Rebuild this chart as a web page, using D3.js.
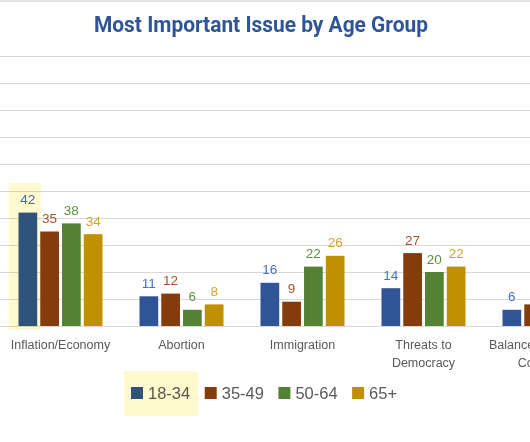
<!DOCTYPE html>
<html>
<head>
<meta charset="utf-8">
<script src="https://cdn.jsdelivr.net/npm/d3@7"></script>
<style>
  html, body { margin: 0; padding: 0; background: #fff; }
  svg { display: block; }
</style>
</head>
<body>
<svg id="chart" width="530" height="442"></svg>
<script>
const title = "Most Important Issue by Age Group";
const categories = ["Inflation/Economy", "Abortion", "Immigration", "Threats to Democracy", "Balance of Power in Congress"];
const series = ["18-34", "35-49", "50-64", "65+"];
const values1834 = [42, 11, 16, 14, 6];
const values3549 = [35, 12, 9, 27, 8];
const values5064 = [38, 6, 22, 20, 7];
const values65 = [34, 8, 26, 22, 9];
const yTicks = [0, 10, 20, 30, 40, 50, 60, 70, 80, 90, 100];

const seriesValues = [values1834, values3549, values5064, values65];
const barColors = ["#2F5597", "#843C0C", "#548235", "#BF9000"];
const labelColors = ["#4472C4", "#A5522A", "#5E9140", "#D4A32A"];
const highlightCat = "Inflation/Economy";
const highlightSeries = "18-34";
const highlightFill = "#FFF9CF";

const svg = d3.select("#chart");
const W = 530;

const x0 = d3.scaleBand().domain(categories).range([0, 121 * categories.length]).paddingInner(0).paddingOuter(0);
const groupW = 84;
const x1 = d3.scaleBand().domain(series).range([0, groupW]).paddingInner(0.14);
const y = d3.scaleLinear().domain([0, 100]).range([326, 56]);
const groupX = c => x0(c) + (x0.bandwidth() - groupW) / 2;

// top border
svg.append("line").attr("x1", 0).attr("x2", W).attr("y1", 1).attr("y2", 1)
  .attr("stroke", "#D9D9D9").attr("stroke-width", 1.5);

// title
svg.append("text").attr("x", 261).attr("y", 32).attr("text-anchor", "middle")
  .attr("font-family", "Roboto, 'Liberation Sans', sans-serif").attr("font-weight", "bold")
  .attr("font-size", 22).attr("fill", "#2F5597")
  .attr("textLength", 334).attr("lengthAdjust", "spacingAndGlyphs")
  .text(title);

// gridlines
svg.append("g").selectAll("line").data(yTicks).join("line")
  .attr("x1", 0).attr("x2", W)
  .attr("y1", d => Math.round(y(d)) + 0.5).attr("y2", d => Math.round(y(d)) + 0.5)
  .attr("stroke", "#D9D9D9").attr("stroke-width", 1.2);

// flattened data
const flat = [];
categories.forEach((c, i) => series.forEach((s, j) => flat.push({ c, s, j, v: seriesValues[j][i] })));

// bars
svg.append("g").selectAll("rect").data(flat).join("rect")
  .attr("x", d => groupX(d.c) + x1(d.s))
  .attr("y", d => y(d.v))
  .attr("width", x1.bandwidth())
  .attr("height", d => y(0) - y(d.v))
  .attr("fill", d => barColors[d.j]);

// value labels (only those that fit in the view)
svg.append("g").selectAll("text")
  .data(flat.filter(d => groupX(d.c) + x1(d.s) + x1.bandwidth() / 2 + 8 < W))
  .join("text")
  .attr("x", d => groupX(d.c) + x1(d.s) + x1.bandwidth() / 2)
  .attr("y", d => y(d.v) - 8.5)
  .attr("text-anchor", "middle")
  .attr("font-family", "'Liberation Sans', Arial, sans-serif")
  .attr("font-size", 13.5)
  .attr("fill", d => labelColors[d.j])
  .text(d => d.v);

// multiply highlight over the selected bar
const hx = groupX(highlightCat) + x1(highlightSeries);
svg.append("rect").attr("x", hx - 10).attr("y", 183).attr("width", x1.bandwidth() + 13.5).attr("height", 147)
  .attr("fill", highlightFill).style("mix-blend-mode", "multiply");

// category labels (wrapped)
const catG = svg.append("g");
categories.forEach(c => {
  const cx = x0(c) + x0.bandwidth() / 2;
  const t = catG.append("text")
    .attr("x", cx).attr("y", 349)
    .attr("text-anchor", "middle")
    .attr("font-family", "'Liberation Sans', Arial, sans-serif")
    .attr("font-size", 12.5).attr("fill", "#595959");
  const words = c.split(" ");
  let line = [];
  let ts = t.append("tspan").attr("x", cx).attr("dy", 0);
  words.forEach(w => {
    line.push(w);
    ts.text(line.join(" "));
    if (ts.node().getComputedTextLength() > 112 && line.length > 1) {
      line.pop();
      ts.text(line.join(" "));
      line = [w];
      ts = t.append("tspan").attr("x", cx).attr("dy", 18).text(w);
    }
  });
});

// legend
const legG = svg.append("g");
let lx = 131;
const legPos = [];
series.forEach((s, j) => {
  legPos.push(lx);
  legG.append("rect").attr("x", lx).attr("y", 387).attr("width", 12).attr("height", 12).attr("fill", barColors[j]);
  const t = legG.append("text").attr("x", lx + 17).attr("y", 399)
    .attr("font-family", "'Liberation Sans', Arial, sans-serif")
    .attr("font-size", 16.5).attr("fill", "#595959").text(s);
  lx += 12 + 5 + t.node().getComputedTextLength() + 14.5;
});
const hl = legPos[series.indexOf(highlightSeries)];
legG.append("rect").attr("x", hl - 7).attr("y", 371).attr("width", 74).attr("height", 45)
  .attr("fill", highlightFill).style("mix-blend-mode", "multiply");
</script>
</body>
</html>
